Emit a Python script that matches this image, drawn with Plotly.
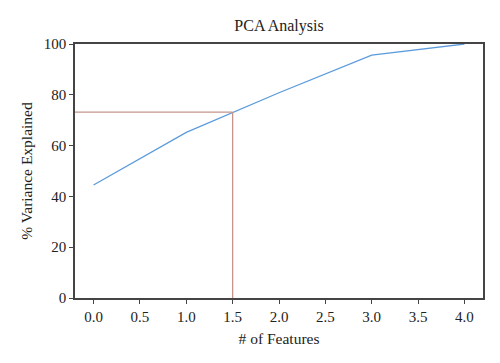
import plotly.graph_objects as go

n_features = [0, 1, 2, 3, 4]
variance_explained = [44.5, 65.2, 80.8, 95.6, 100.0]
threshold_x = 1.5
threshold_y = 73.2
x_ticks = [0.0, 0.5, 1.0, 1.5, 2.0, 2.5, 3.0, 3.5, 4.0]
y_ticks = [0, 20, 40, 60, 80, 100]
x_range = [-0.2, 4.2]

fig = go.Figure()
fig.add_trace(go.Scatter(x=n_features, y=variance_explained, mode="lines",
                         line=dict(color="#5b9bdc", width=1.3), showlegend=False))
fig.add_trace(go.Scatter(x=[x_range[0], threshold_x], y=[threshold_y, threshold_y], mode="lines",
                         line=dict(color="#c4948a", width=1.3), showlegend=False))
fig.add_trace(go.Scatter(x=[threshold_x, threshold_x], y=[0, threshold_y], mode="lines",
                         line=dict(color="#c4948a", width=1.3), showlegend=False))

font = dict(family="Liberation Serif, Times New Roman, serif", color="#222", size=15)
fig.update_layout(
    width=484, height=347,
    margin=dict(l=67, r=7, t=36, b=57),
    paper_bgcolor="white", plot_bgcolor="white",
    font=font,
    title=dict(text="PCA Analysis", x=0.5, xref="paper", xanchor="center",
               y=0.95, yanchor="middle", font=dict(size=16)),
    xaxis=dict(range=x_range, tickvals=x_ticks, ticktext=[f"{v:.1f}" for v in x_ticks],
               showgrid=False, zeroline=False, showline=True, linecolor="#444", linewidth=1.5,
               mirror=True, ticks="outside", ticklen=4, tickcolor="#444",
               title=dict(text="# of Features", standoff=9, font=dict(size=15.5))),
    yaxis=dict(range=[0, 100], tickvals=y_ticks, showgrid=False, zeroline=False,
               showline=True, linecolor="#444", linewidth=1.5, mirror=True,
               ticks="outside", ticklen=4, tickcolor="#444",
               title=dict(text="% Variance Explained", standoff=7, font=dict(size=15.5))),
)
fig.write_html("out.html")
